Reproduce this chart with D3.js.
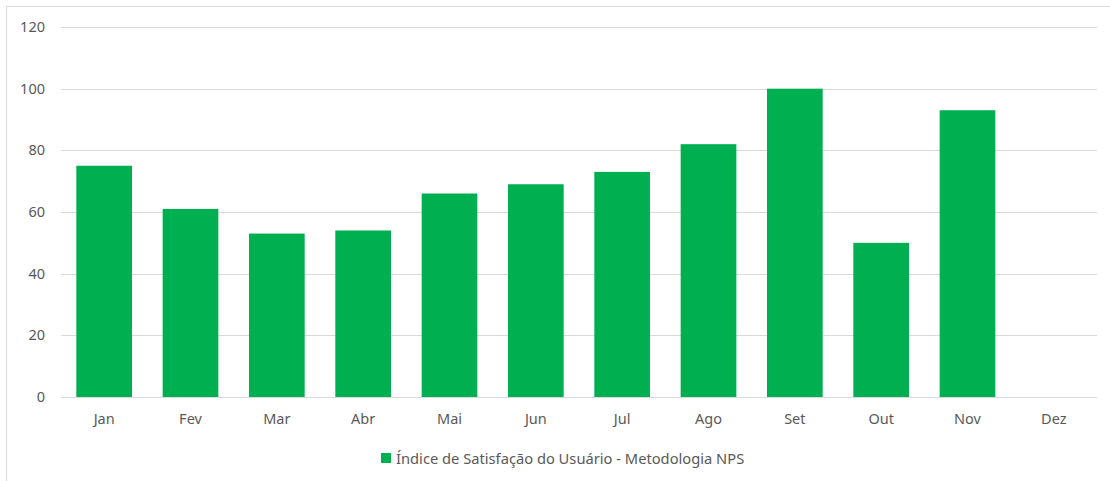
<!DOCTYPE html>
<html>
<head>
<meta charset="utf-8">
<script src="https://cdn.jsdelivr.net/npm/d3@7"></script>
<style>
  body { margin: 0; background: #fff; }
  svg text { font-family: "Noto Sans", sans-serif; fill: #595959; }
</style>
</head>
<body>
<svg id="chart"></svg>
<script>
// Chart data
const months = ["Jan", "Fev", "Mar", "Abr", "Mai", "Jun", "Jul", "Ago", "Set", "Out", "Nov", "Dez"];
const npsValues = [75, 61, 53, 54, 66, 69, 73, 82, 100, 50, 93, null];
const yTicks = [0, 20, 40, 60, 80, 100, 120];
const seriesName = "Índice de Satisfação do Usuário - Metodologia NPS";

const W = 1110, H = 481;
const margin = { top: 27, right: 13, bottom: 84, left: 61 };
const width = W - margin.left - margin.right;
const height = H - margin.top - margin.bottom;

const svg = d3.select("#chart").attr("width", W).attr("height", H);

// Chart frame (runs off the right/bottom edge)
svg.append("rect")
  .attr("x", 6.5).attr("y", 6.5)
  .attr("width", W + 10).attr("height", H + 10)
  .attr("fill", "none")
  .attr("stroke", "#d9d9d9");

const g = svg.append("g").attr("transform", `translate(${margin.left}, ${margin.top})`);

// Scales
const xScale = d3.scaleBand()
  .domain(months)
  .range([0, width])
  .paddingInner(0.355)
  .paddingOuter(0.1775);

const yScale = d3.scaleLinear()
  .domain([0, 120])
  .range([height, 0]);

// Gridlines
g.selectAll(".grid")
  .data(yTicks)
  .enter()
  .append("line")
  .attr("class", "grid")
  .attr("x1", 0)
  .attr("x2", width)
  .attr("y1", (d) => Math.round(yScale(d)) + 0.5)
  .attr("y2", (d) => Math.round(yScale(d)) + 0.5)
  .attr("stroke", "#d9d9d9")
  .attr("stroke-width", 1.2);

// Bars
g.selectAll(".bar")
  .data(months.map((m, i) => ({ month: m, value: npsValues[i] })).filter((d) => d.value != null))
  .enter()
  .append("rect")
  .attr("class", "bar")
  .attr("x", (d) => xScale(d.month))
  .attr("y", (d) => yScale(d.value))
  .attr("width", xScale.bandwidth())
  .attr("height", (d) => height - yScale(d.value))
  .attr("fill", "#00b050");

// Y axis
const yAxis = g.append("g")
  .call(d3.axisLeft(yScale).tickValues(yTicks).tickSize(0).tickPadding(16));
yAxis.select(".domain").remove();
yAxis.selectAll("text")
  .style("font-size", "14.5px")
  .attr("fill", "#595959");

// X axis
const xAxis = g.append("g")
  .attr("transform", `translate(0, ${height})`)
  .call(d3.axisBottom(xScale).tickSize(0).tickPadding(17));
xAxis.select(".domain").remove();
xAxis.selectAll("text")
  .style("font-size", "14.5px")
  .attr("fill", "#595959");

// Legend
const legend = svg.append("g").attr("transform", "translate(381, 453)");
legend.append("rect")
  .attr("x", 0).attr("y", 0)
  .attr("width", 10).attr("height", 10)
  .attr("fill", "#00b050");
legend.append("text")
  .attr("x", 15)
  .attr("y", 10.5)
  .style("font-size", "14.7px")
  .text(seriesName);
</script>
</body>
</html>
